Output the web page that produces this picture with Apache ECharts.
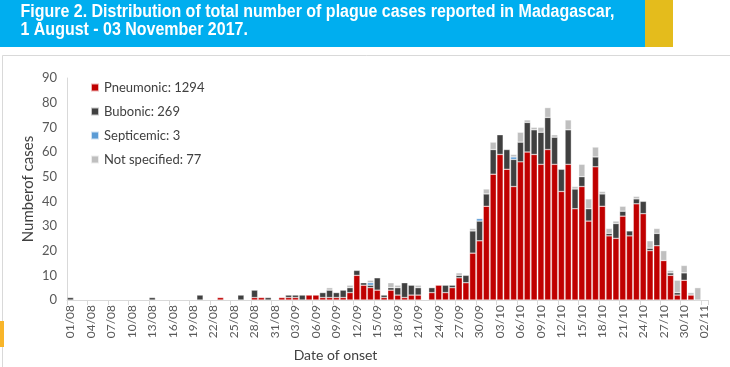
<!DOCTYPE html>
<html>
<head>
<meta charset="utf-8">
<script src="https://cdn.jsdelivr.net/npm/echarts@6/dist/echarts.min.js"></script>
<style>
html,body{margin:0;padding:0;background:#fff;}
#chart{width:730px;height:367px;}
</style>
</head>
<body>
<div id="chart"></div>
<script>
const categories = [
 '01/08','02/08','03/08','04/08','05/08','06/08','07/08','08/08','09/08','10/08',
 '11/08','12/08','13/08','14/08','15/08','16/08','17/08','18/08','19/08','20/08',
 '21/08','22/08','23/08','24/08','25/08','26/08','27/08','28/08','29/08','30/08',
 '31/08','01/09','02/09','03/09','04/09','05/09','06/09','07/09','08/09','09/09',
 '10/09','11/09','12/09','13/09','14/09','15/09','16/09','17/09','18/09','19/09',
 '20/09','21/09','22/09','23/09','24/09','25/09','26/09','27/09','28/09','29/09',
 '30/09','01/10','02/10','03/10','04/10','05/10','06/10','07/10','08/10','09/10',
 '10/10','11/10','12/10','13/10','14/10','15/10','16/10','17/10','18/10','19/10',
 '20/10','21/10','22/10','23/10','24/10','25/10','26/10','27/10','28/10','29/10',
 '30/10','31/10','01/11','02/11'
];
const pneumonic = [
 0,0,0,0,0,0,0,0,0,0,
 0,0,0,0,0,0,0,0,0,0,
 0,0,1,0,0,0,0,1,1,0,
 0,1,1,1,0,2,2,1,1,1,
 1,3,10,6,5,4,1,4,2,1,
 2,2,0,3,6,3,5,9,7,19,
 24,38,51,59,53,46,56,60,59,55,
 61,55,44,55,37,46,32,54,38,26,
 25,34,26,39,35,20,22,16,10,2,
 8,2,0,0
];
const bubonic = [
 1,0,0,0,0,0,0,0,0,0,
 0,0,1,0,0,0,0,0,0,2,
 0,0,0,0,0,2,0,3,0,1,
 0,0,1,1,2,0,0,2,3,2,
 3,2,2,1,1,5,1,1,3,6,
 4,3,0,2,0,3,1,1,3,9,
 8,5,10,8,8,11,8,12,10,13,
 13,11,9,14,8,4,5,4,5,1,
 6,2,2,2,5,1,5,0,1,1,
 3,0,0,0
];
const septicemic = [
 0,0,0,0,0,0,0,0,0,0,
 0,0,0,0,0,0,0,0,0,0,
 0,0,0,0,0,0,0,0,0,0,
 0,0,0,0,0,0,0,0,0,0,
 0,0,0,0,1,0,0,0,0,0,
 0,0,0,0,0,0,0,0,0,0,
 1,0,0,0,0,1,0,0,0,0,
 0,0,0,0,0,0,0,0,0,0,
 0,0,0,0,0,0,0,0,0,0,
 0,0,0,0
];
const notSpecified = [
 0,0,0,0,0,0,0,0,0,0,
 0,0,0,0,0,0,0,0,0,0,
 0,0,0,0,0,0,0,0,0,0,
 0,0,0,0,0,0,0,0,1,0,
 0,1,0,0,1,0,0,2,1,0,
 0,1,0,0,0,0,0,1,0,1,
 0,2,3,0,0,1,4,1,1,2,
 4,1,0,4,1,5,4,4,1,2,
 1,2,0,1,0,3,2,4,1,5,
 3,1,5,0
];
const seriesNames = ['Pneumonic: 1294','Bubonic: 269','Septicemic: 3','Not specified: 77'];
const seriesColors = ['#C00000','#404040','#5B9BD5','#BFBFBF'];
const yTicks = {min:0, max:90, interval:10};
const titleLines = ['Figure 2. Distribution of total number of plague cases reported in Madagascar,',
                    '1 August - 03 November 2017.'];
const yAxisTitle = 'Numberof cases';
const xAxisTitle = 'Date of onset';

const bodyFont = 'Lato, "Open Sans", sans-serif';
const titleFont = 'bold 18px "Liberation Sans", Arial, sans-serif';
const dataSets = [pneumonic, bubonic, septicemic, notSpecified];

// condensed title: compress the regular bold face horizontally
const ctx = document.createElement('canvas').getContext('2d');
ctx.font = titleFont;
const titleScale = 594 / ctx.measureText(titleLines[0]).width;

const chart = echarts.init(document.getElementById('chart'));
chart.setOption({
  animation:false,
  backgroundColor:'#fff',
  graphic:[
    {type:'rect', shape:{x:0,y:0,width:645,height:47}, style:{fill:'#00AEEF'}, z:-1},
    {type:'rect', shape:{x:645,y:0,width:28,height:47}, style:{fill:'#E4BC1C'}, z:-1},
    {type:'rect', shape:{x:2.5,y:55.5,width:740,height:320}, style:{fill:null, stroke:'#D9D9D9', lineWidth:1}, z:-1},
    {type:'rect', shape:{x:0,y:321,width:4,height:26}, style:{fill:'#F8B52A'}, z:0},
    {type:'text', x:20.5, y:3.5, scaleX:titleScale, z:5,
      style:{text:titleLines[0], font:titleFont, fill:'#fff', verticalAlign:'top'}},
    {type:'text', x:20.5, y:21.5, scaleX:titleScale, z:5,
      style:{text:titleLines[1], font:titleFont, fill:'#fff', verticalAlign:'top'}},
    {type:'text', x:28, y:189, rotation:Math.PI/2, z:5,
      style:{text:yAxisTitle, fill:'#404040', fontSize:15, fontFamily:bodyFont, align:'center', verticalAlign:'middle'}}
  ],
  legend:{
    orient:'vertical', left:85, top:76, itemWidth:8, itemHeight:8, itemGap:11,
    icon:'rect',
    textStyle:{color:'#404040', fontSize:13, fontFamily:bodyFont},
    data:seriesNames
  },
  grid:{left:67, right:22, top:78, bottom:66, containLabel:false},
  xAxis:{
    type:'category', data:categories, boundaryGap:true,
    name:xAxisTitle, nameLocation:'middle', nameGap:48,
    nameTextStyle:{color:'#404040', fontSize:14, fontFamily:bodyFont, padding:[0,104,0,0]},
    axisLine:{lineStyle:{color:'#D9D9D9'}},
    axisTick:{show:true, interval:2, length:5, lineStyle:{color:'#D9D9D9'}},
    axisLabel:{interval:2, rotate:90, color:'#595959', fontSize:12, fontFamily:bodyFont, margin:5}
  },
  yAxis:{
    type:'value', min:yTicks.min, max:yTicks.max, interval:yTicks.interval,
    axisLine:{show:true, lineStyle:{color:'#D9D9D9'}},
    axisTick:{show:false},
    splitLine:{show:false},
    axisLabel:{color:'#595959', fontSize:13, fontFamily:bodyFont, margin:10}
  },
  series: seriesNames.map((n,i)=>({
    name:n, type:'bar', stack:'total', barCategoryGap:'8%',
    itemStyle:{color:seriesColors[i], borderColor:'rgba(255,255,255,0.7)', borderWidth:0.5},
    data:dataSets[i].map(v=> v===0 ? '-' : v)
  }))
});
</script>
</body>
</html>
